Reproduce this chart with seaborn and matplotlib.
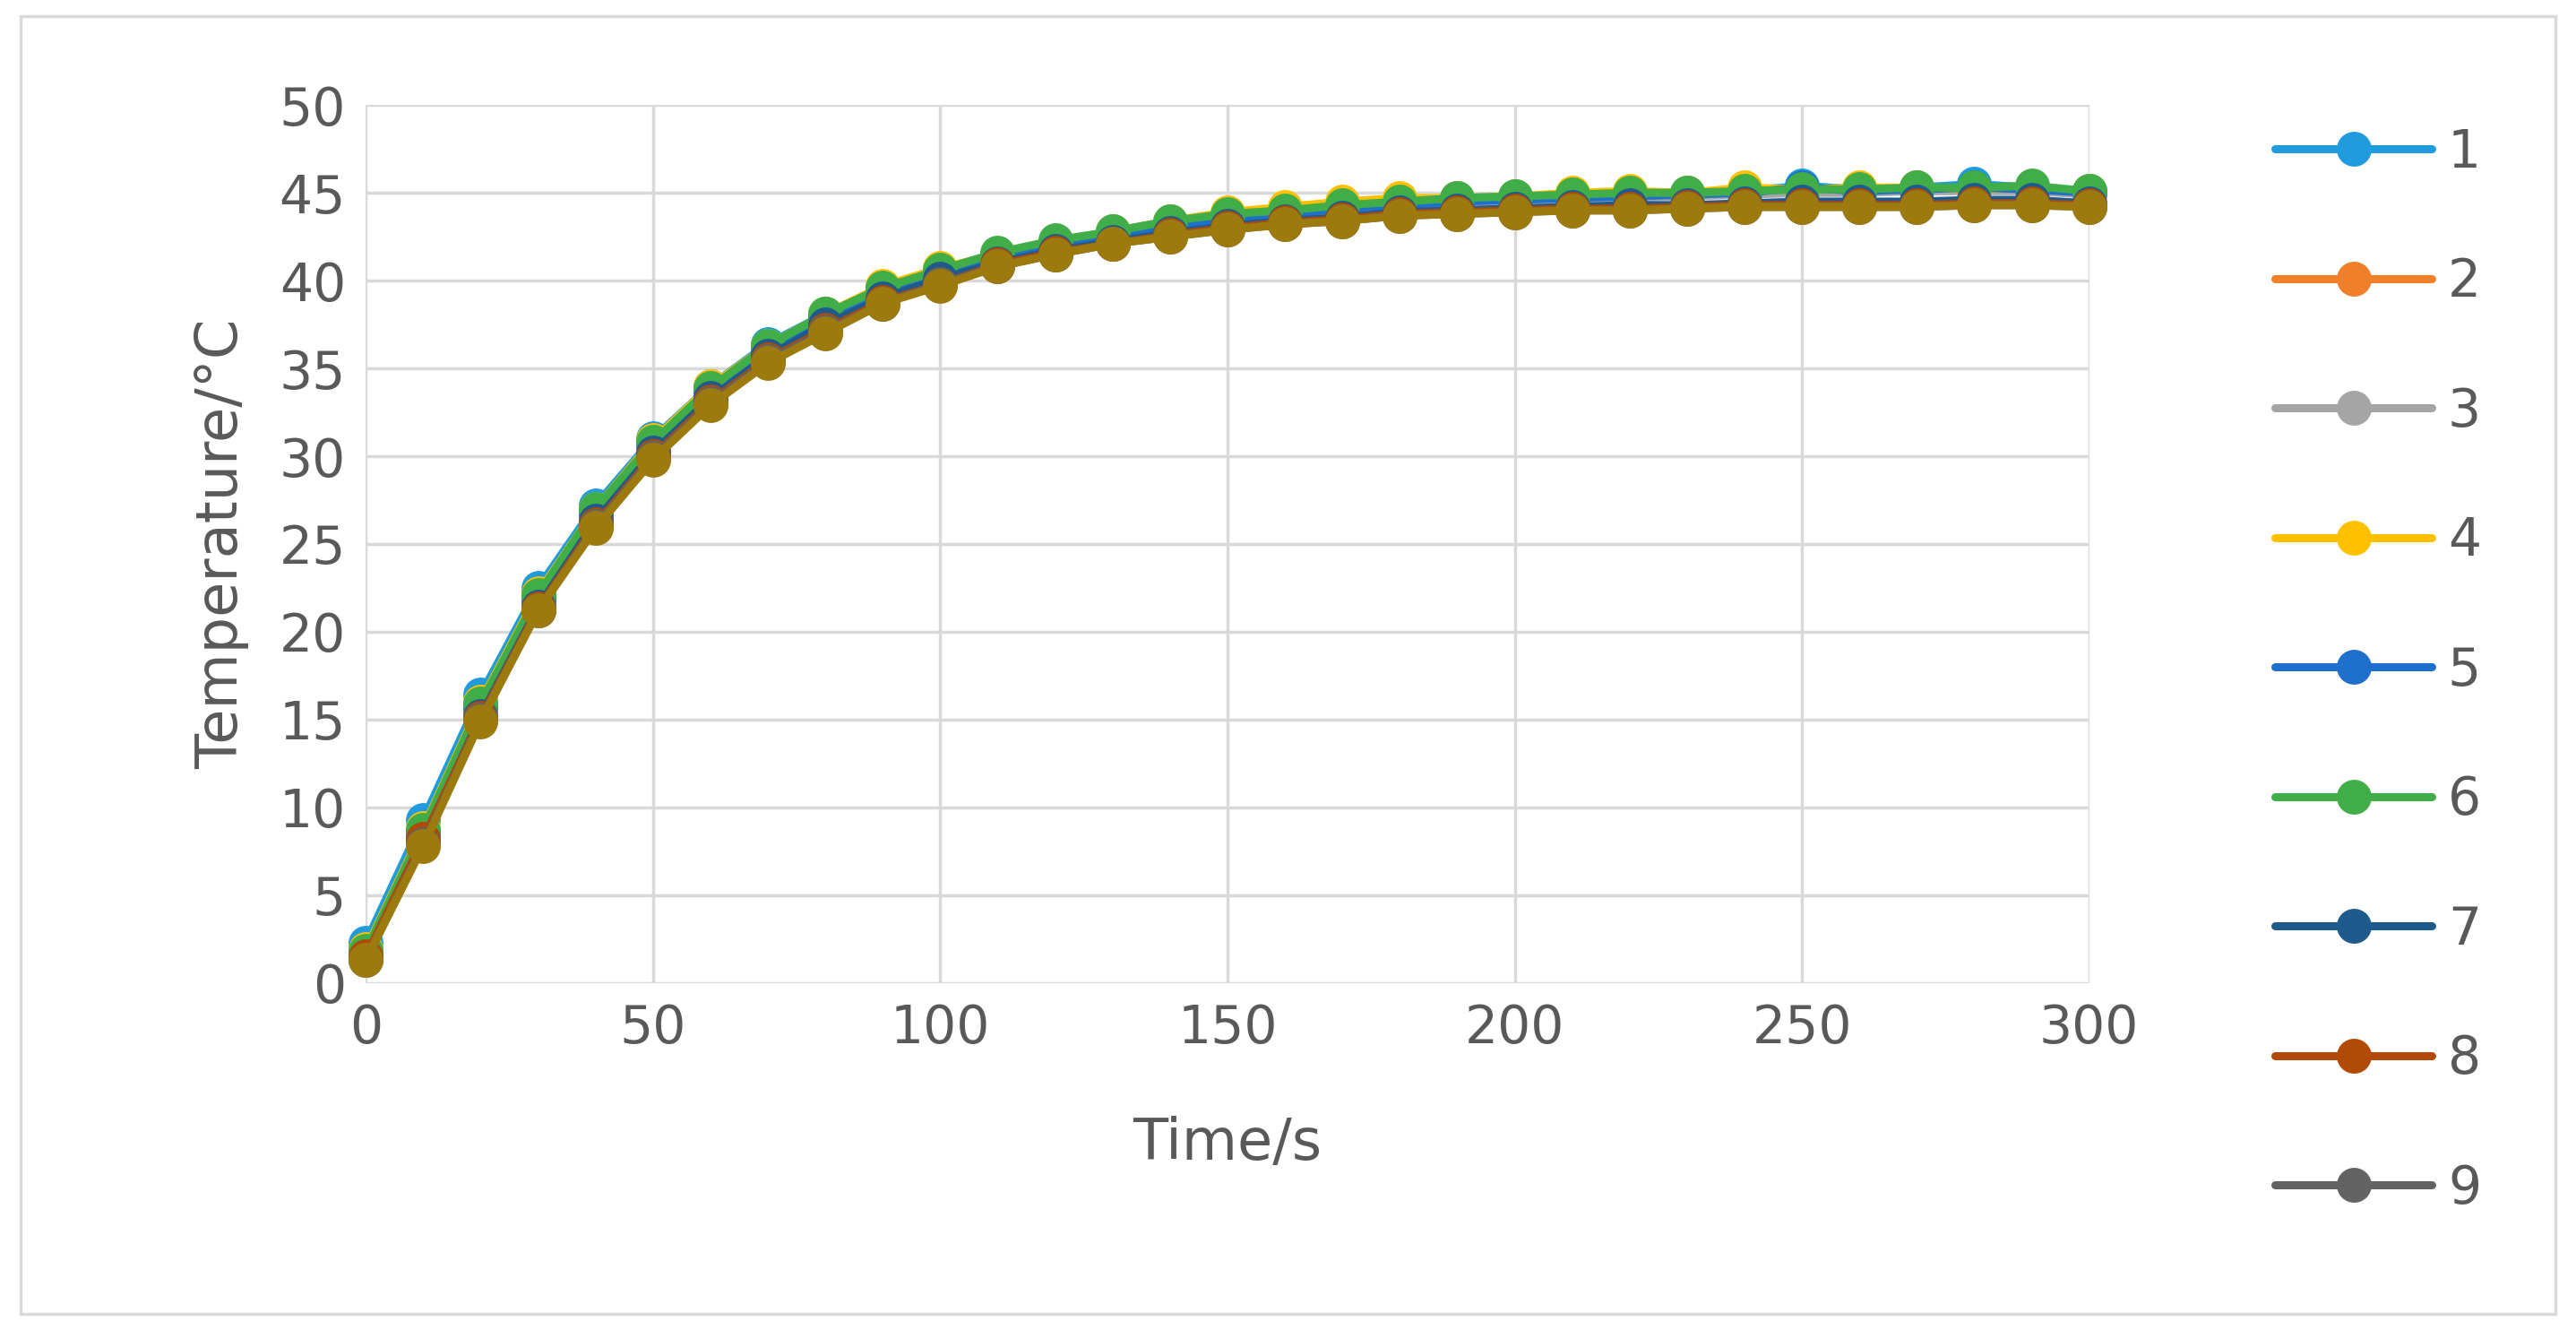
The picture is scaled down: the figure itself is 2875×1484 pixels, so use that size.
import matplotlib
matplotlib.use("Agg")
import matplotlib.pyplot as plt
import seaborn as sns
import pandas as pd
from matplotlib.patches import Rectangle

time = list(range(0, 301, 10))
s1 = [2.3, 9.3, 16.4, 22.5, 27.2, 31.0, 34.0, 36.4, 38.1, 39.5, 40.5, 41.5, 42.2, 42.8, 43.4, 43.8, 44.1, 44.3, 44.5, 44.7, 44.8, 44.9, 45.0, 45.0, 45.1, 45.4, 45.2, 45.3, 45.5, 45.3, 45.1]
s2 = [1.8, 8.6, 15.8, 22.0, 26.9, 30.7, 33.8, 36.2, 38.0, 39.6, 40.6, 41.4, 42.1, 42.6, 43.2, 43.6, 43.9, 44.2, 44.4, 44.5, 44.6, 44.8, 44.9, 44.9, 45.0, 45.1, 45.1, 45.2, 45.2, 45.2, 45.0]
s3 = [1.6, 8.3, 15.5, 21.7, 26.6, 30.5, 33.6, 36.0, 37.8, 39.4, 40.4, 41.3, 42.0, 42.5, 43.0, 43.4, 43.7, 44.0, 44.2, 44.4, 44.5, 44.6, 44.7, 44.8, 44.9, 45.0, 45.0, 45.1, 45.1, 45.1, 44.9]
s4 = [1.9, 8.8, 16.0, 22.2, 27.0, 30.9, 34.0, 36.3, 38.1, 39.7, 40.7, 41.5, 42.2, 42.8, 43.4, 43.9, 44.2, 44.5, 44.7, 44.7, 44.8, 45.0, 45.1, 45.0, 45.3, 45.2, 45.3, 45.3, 45.2, 45.3, 45.1]
s5 = [1.7, 8.5, 15.7, 21.9, 26.8, 30.7, 33.7, 36.1, 37.9, 39.5, 40.5, 41.4, 42.1, 42.6, 43.1, 43.5, 43.8, 44.1, 44.3, 44.5, 44.6, 44.7, 44.8, 44.9, 45.0, 45.3, 45.1, 45.2, 45.3, 45.2, 45.0]
s6 = [1.8, 8.7, 15.9, 22.1, 27.0, 30.8, 33.9, 36.3, 38.1, 39.6, 40.6, 41.6, 42.3, 42.8, 43.4, 43.8, 44.0, 44.3, 44.5, 44.7, 44.8, 44.9, 45.0, 45.0, 45.1, 45.2, 45.2, 45.3, 45.3, 45.4, 45.1]
s7 = [1.4, 8.0, 15.2, 21.4, 26.3, 30.2, 33.3, 35.7, 37.5, 39.0, 40.1, 41.0, 41.7, 42.2, 42.7, 43.1, 43.4, 43.6, 43.9, 44.0, 44.1, 44.2, 44.3, 44.3, 44.4, 44.5, 44.5, 44.5, 44.6, 44.6, 44.4]
s8 = [1.5, 8.2, 15.1, 21.3, 26.1, 30.0, 33.1, 35.5, 37.2, 38.8, 39.8, 40.9, 41.6, 42.1, 42.6, 43.0, 43.3, 43.5, 43.8, 43.9, 44.0, 44.1, 44.1, 44.2, 44.3, 44.3, 44.3, 44.3, 44.4, 44.4, 44.3]
s9 = [1.3, 7.9, 15.0, 21.2, 26.0, 29.9, 33.0, 35.4, 37.1, 38.7, 39.8, 40.8, 41.5, 42.1, 42.5, 42.9, 43.2, 43.4, 43.7, 43.8, 43.9, 44.0, 44.0, 44.1, 44.2, 44.2, 44.2, 44.2, 44.3, 44.3, 44.2]
s10 = [1.3, 7.8, 14.9, 21.2, 25.9, 29.8, 32.9, 35.3, 37.0, 38.7, 39.7, 40.8, 41.5, 42.1, 42.5, 42.9, 43.2, 43.4, 43.7, 43.8, 43.9, 44.0, 44.0, 44.1, 44.2, 44.2, 44.2, 44.2, 44.3, 44.3, 44.2]
series = [s1, s2, s3, s4, s5, s6, s7, s8, s9, s10]
labels = ["1", "2", "3", "4", "5", "6", "7", "8", "9", "10"]
colors = ["#1F9BDE", "#F07F2A", "#A5A5A5", "#FFC000", "#1F6FCC", "#40AD48",
          "#1E5B8C", "#B04A06", "#636363", "#9C7A0E"]

sns.set_style("white")
fig = plt.figure(figsize=(28.75, 14.84), dpi=100)
ax = fig.add_axes([0.142, 0.261, 0.669, 0.66])
for s, lab, c in zip(series, labels, colors):
    df = pd.DataFrame({"t": time, "v": s})
    sns.lineplot(data=df, x="t", y="v", ax=ax, color=c, marker="o", markersize=28,
                 markeredgewidth=0, linewidth=6.5, label=lab, legend=False, clip_on=False)

ax.set_xlim(0, 300)
ax.set_ylim(0, 50)
ax.set_xticks(range(0, 301, 50))
ax.set_yticks(range(0, 51, 5))
ax.grid(True, color="#D9D9D9", linewidth=2.5)
for sp in ax.spines.values():
    sp.set_visible(False)
ax.tick_params(axis="both", labelsize=42, colors="#595959", length=0, pad=16)
ax.set_xlabel("Time/s", fontsize=46, color="#595959", labelpad=50)
ax.set_ylabel("Temperature/°C", fontsize=46, color="#595959", labelpad=24)

hl = [h for h in ax.get_lines() if h.get_label() in labels[:9]]
fig.legend(hl, labels[:9], loc="upper left", bbox_to_anchor=(0.865, 0.94),
           fontsize=42, frameon=False, labelspacing=1.5, handlelength=3.0,
           handletextpad=0.3, labelcolor="#595959")

fig.patches.append(Rectangle((0.008, 0.012), 0.984, 0.976, transform=fig.transFigure,
                             fill=False, edgecolor="#D9D9D9", linewidth=2.5))
fig.savefig("out.png", dpi=100)
